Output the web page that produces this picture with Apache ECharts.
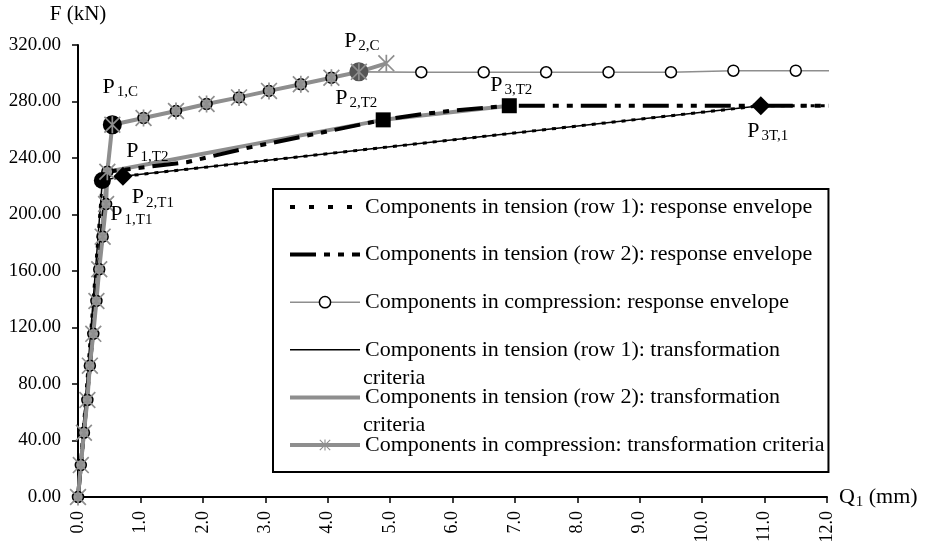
<!DOCTYPE html>
<html><head><meta charset="utf-8">
<script src="https://cdn.jsdelivr.net/npm/echarts@6/dist/echarts.min.js"></script>
<style>html,body{margin:0;padding:0;background:#fff}#chart{width:928px;height:546px}</style>
</head><body><div id="chart"></div>
<script>
// ---------------- data (Q1 in mm, F in kN) ----------------
const xTickValues = [0,1,2,3,4,5,6,7,8,9,10,11,12];
const yTickValues = [0,40,80,120,160,200,240,280,320];

const elasticQ = [0, 0.045, 0.095, 0.15, 0.19, 0.245, 0.295, 0.34, 0.395, 0.45, 0.47];
const elasticF = [0, 22.6, 45.5, 68.7, 93.0, 115.5, 138.8, 161.2, 184.3, 207.4, 230.3];

const compHardQ = [0.55, 1.05, 1.57, 2.06, 2.58, 3.06, 3.57, 4.06, 4.5];
const compHardF = [263.5, 268.3, 273.3, 278.2, 282.9, 287.5, 292.2, 296.8, 301.0];

const compPlateauQ = [5.5, 6.5, 7.5, 8.5, 9.5, 10.5, 11.5, 12.23];
const compPlateauF = [300.7, 300.7, 300.7, 300.7, 300.7, 301.8, 301.8, 301.8];

const compTrEndQ = [4.94];
const compTrEndF = [307.0];

const t1EnvQ = [0, 0.39, 0.72, 10.94, 12.23];
const t1EnvF = [0, 224.0, 227.0, 277.0, 277.0];

const t2EnvQ = [0, 0.47, 1.74, 2.7, 4.89, 5.5, 6.0, 6.91, 12.23];
const t2EnvF = [0, 230.3, 237.0, 247.0, 267.0, 271.0, 273.5, 277.0, 277.0];

const t1TrQ = [0, 0.39, 0.72, 10.94];
const t1TrF = [0, 224.0, 227.0, 277.0];

const t2TrQ = [0, 0.47, 4.89, 6.91];
const t2TrF = [0, 230.3, 267.0, 277.0];

const keyLabels = ['1,C', '2,C', '1,T1', '1,T2', '2,T1', '2,T2', '3,T2', '3T,1'];
const keyQ = [0.55, 4.5, 0.39, 0.47, 0.72, 4.89, 6.91, 10.94];
const keyF = [263.5, 301.0, 224.0, 230.3, 227.0, 267.0, 277.0, 277.0];

const seriesNames = [
  'Components in tension (row 1): response envelope',
  'Components in tension (row 2): response envelope',
  'Components in compression: response envelope',
  'Components in tension (row 1): transformation criteria',
  'Components in tension (row 2): transformation criteria',
  'Components in compression: transformation criteria'
];

// ---------------- styling / building ----------------
const serif = '"Liberation Serif","Times New Roman",serif';
const GRAY = '#8e8e8e';
const zip = (qs, fs) => qs.map((q, i) => [q, fs[i]]);
const asterisk = 'path://M9 0H11V20H9Z M0 1.4L1.4 0L20 18.6L18.6 20Z M18.6 0L20 1.4L1.4 20L0 18.6Z';

const cEnvQ = elasticQ.concat(compHardQ, compPlateauQ);
const cEnvF = elasticF.concat(compHardF, compPlateauF);
const nGray = elasticQ.length + compHardQ.length;
const cEnvData = cEnvQ.map((q, i) => {
  const it = { value: [q, cEnvF[i]] };
  if (i < nGray) it.itemStyle = { color: '#9a9a9a' };
  if (i === cEnvQ.length - 1) it.symbol = 'none';
  return it;
});
const cTrData = zip(elasticQ.concat(compHardQ, compTrEndQ), elasticF.concat(compHardF, compTrEndF));

const keyStyle = [
  { symbol: 'circle', size: 19, color: '#000', off: [8, -38] },
  { symbol: 'circle', size: 19, color: '#555', off: [3, -31] },
  { symbol: 'circle', size: 17, color: '#000', off: [29, 34] },
  { symbol: 'circle', size: 1, color: 'transparent', off: [40, -20] },
  { symbol: 'diamond', size: 19, color: '#000', off: [30, 21] },
  { symbol: 'rect', size: 15, color: '#000', off: [-27, -22] },
  { symbol: 'rect', size: 15, color: '#000', off: [2, -21] },
  { symbol: 'diamond', size: 19, color: '#000', off: [7, 25] }
];
const subRich = {
  p: { fontSize: 22, lineHeight: 26, fontFamily: serif, color: '#000' },
  s: { fontSize: 15, lineHeight: 15, fontFamily: serif, color: '#000', verticalAlign: 'bottom', padding: [0, 0, 0, 2] }
};
const keyData = keyQ.map((q, i) => ({
  value: [q, keyF[i]],
  symbol: keyStyle[i].symbol,
  symbolSize: keyStyle[i].size,
  itemStyle: { color: keyStyle[i].color, opacity: 1 },
  label: {
    show: true, position: 'inside', offset: keyStyle[i].off,
    formatter: '{p|P}{s|' + keyLabels[i] + '}', rich: subRich, color: '#000'
  }
}));

const noSym = { showSymbol: false, symbol: 'circle', itemStyle: { color: 'transparent' } };

const legendData = seriesNames.map((n, i) => i === 0
  ? { name: n, lineStyle: { width: 4, type: [5, 14] } }
  : { name: n });

const option = {
  animation: false,
  backgroundColor: '#fff',
  textStyle: { fontFamily: serif, color: '#000' },
  grid: { left: 78, right: 101, top: 45, bottom: 49, containLabel: false },
  xAxis: {
    type: 'value', min: xTickValues[0], max: xTickValues[xTickValues.length - 1], interval: 1,
    name: '{q|Q}{s|1}{q| (mm)}', nameLocation: 'end', nameGap: 10,
    nameTextStyle: { rich: {
      q: { fontSize: 22, lineHeight: 26, fontFamily: serif, color: '#000' },
      s: { fontSize: 15, lineHeight: 15, fontFamily: serif, color: '#000', verticalAlign: 'bottom', padding: [0, 0, 0, 1] } } },
    axisLine: { show: true, lineStyle: { color: '#000', width: 2 } },
    axisTick: { show: true, length: 6, lineStyle: { color: '#000', width: 1.5 } },
    axisLabel: { rotate: 90, margin: 14, fontSize: 18, fontFamily: serif, color: '#000',
      formatter: v => v.toFixed(1) },
    splitLine: { show: false }
  },
  yAxis: {
    type: 'value', min: yTickValues[0], max: yTickValues[yTickValues.length - 1], interval: 40,
    name: 'F (kN)', nameLocation: 'end', nameGap: 20,
    nameTextStyle: { fontSize: 21, fontFamily: serif, color: '#000', align: 'center' },
    axisLine: { show: true, lineStyle: { color: '#000', width: 2 } },
    axisTick: { show: true, length: 6, lineStyle: { color: '#000', width: 1.5 } },
    axisLabel: { margin: 17, fontSize: 19, fontFamily: serif, color: '#000',
      formatter: v => v.toFixed(2) },
    splitLine: { show: false }
  },
  legend: {
    data: legendData,
    orient: 'vertical', left: 273, top: 189,
    padding: [4, 4, 13, 15],
    itemWidth: 70, itemHeight: 14, itemGap: 19.6,
    borderColor: '#000', borderWidth: 2, backgroundColor: '#fff',
    textStyle: { fontSize: 22, lineHeight: 28, fontFamily: serif, color: '#000' },
    lineStyle: { width: 'inherit' },
    itemStyle: { borderWidth: 'inherit' },
    selectedMode: false,
    formatter: name => (name === seriesNames[3] || name === seriesNames[4]) ? name.replace(' criteria', '') : name
  },
  graphic: [
    { type: 'text', z: 100, x: 363, y: 378, style: { text: 'criteria', font: '22px ' + serif, fill: '#000', verticalAlign: 'middle' } },
    { type: 'text', z: 100, x: 363, y: 425, style: { text: 'criteria', font: '22px ' + serif, fill: '#000', verticalAlign: 'middle' } }
  ],
  series: [
    Object.assign({ name: seriesNames[4], type: 'line', data: zip(t2TrQ, t2TrF),
      lineStyle: { color: GRAY, width: 4 } }, noSym),
    { name: seriesNames[2], type: 'line', data: cEnvData, clip: false,
      symbol: 'circle', symbolSize: 11, showSymbol: true,
      lineStyle: { color: GRAY, width: 1.6 },
      itemStyle: { color: '#fff', borderColor: '#000', borderWidth: 1.5 } },
    Object.assign({ name: seriesNames[3], type: 'line', data: zip(t1TrQ, t1TrF),
      lineStyle: { color: '#000', width: 1.5 } }, noSym),
    Object.assign({ name: seriesNames[0], type: 'line', data: zip(t1EnvQ, t1EnvF), clip: false,
      lineStyle: { color: '#000', width: 3, type: [4, 6] } }, noSym),
    Object.assign({ name: seriesNames[1], type: 'line', data: zip(t2EnvQ, t2EnvF), clip: false,
      lineStyle: { color: '#000', width: 4, type: [26, 8, 6, 8, 6, 8] } }, noSym),
    { name: 'key points', type: 'scatter', data: keyData, z: 3, itemStyle: { opacity: 1 } },
    { name: seriesNames[5], type: 'line', data: cTrData, z: 3,
      symbol: asterisk, symbolSize: 17, showSymbol: true,
      lineStyle: { color: GRAY, width: 4 },
      itemStyle: { color: GRAY } }
  ]
};

const chart = echarts.init(document.getElementById('chart'), null, { renderer: 'canvas' });
chart.setOption(option);
</script>
</body></html>
